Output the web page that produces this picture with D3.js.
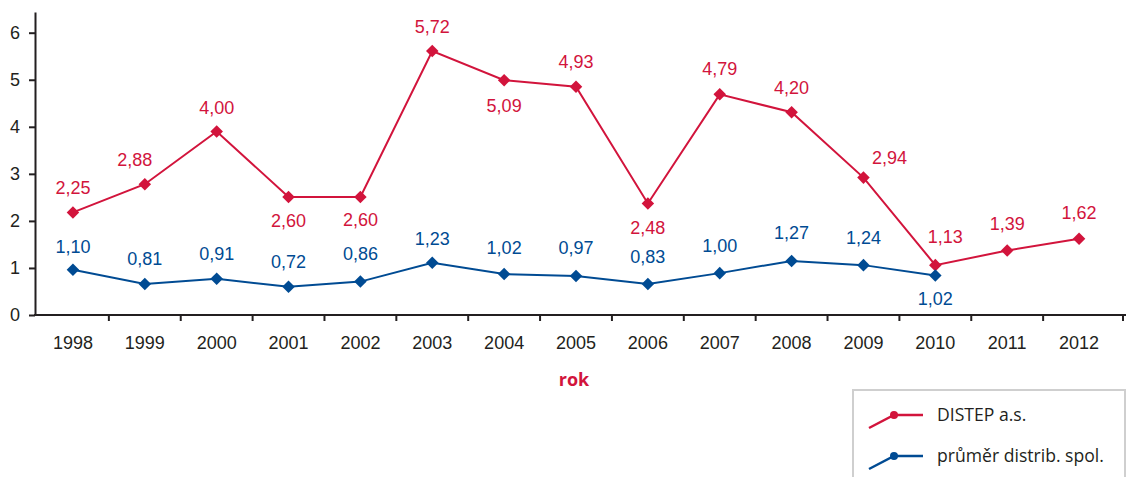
<!DOCTYPE html>
<html>
<head>
<meta charset="utf-8">
<script src="https://cdn.jsdelivr.net/npm/d3@7"></script>
<style>
  html, body { margin: 0; padding: 0; background: #fff; }
  svg { display: block; }
  .tick text { font-family: "Liberation Sans", Arial, sans-serif; font-size: 18px; fill: #231f20; }
  .val { font-family: "Liberation Sans", Arial, sans-serif; font-size: 18px; }
  .leg { font-family: "Open Sans", sans-serif; font-size: 17.6px; fill: #231f20; }
</style>
</head>
<body>
<svg id="chart" width="1133" height="477"></svg>
<script>
// data
var years = ['1998', '1999', '2000', '2001', '2002', '2003', '2004', '2005',
             '2006', '2007', '2008', '2009', '2010', '2011', '2012'];
var distep = [2.18, 2.78, 3.90, 2.51, 2.51, 5.61, 4.99, 4.85, 2.37, 4.69, 4.31, 2.92, 1.06, 1.37, 1.62];
var average = [0.96, 0.66, 0.77, 0.60, 0.71, 1.11, 0.87, 0.83, 0.66, 0.89, 1.15, 1.06, 0.84];
var distepLabels = ['2,25', '2,88', '4,00', '2,60', '2,60', '5,72', '5,09', '4,93',
                    '2,48', '4,79', '4,20', '2,94', '1,13', '1,39', '1,62'];
var averageLabels = ['1,10', '0,81', '0,91', '0,72', '0,86', '1,23', '1,02', '0,97',
                     '0,83', '1,00', '1,27', '1,24', '1,02'];
var yTicks = [0, 1, 2, 3, 4, 5, 6];
var seriesNames = ['DISTEP a.s.', 'průměr distrib. spol.'];
var axisTitle = 'rok';

var RED = '#d2143c',
    BLUE = '#004b93',
    INK = '#231f20';

// where each value label sits relative to its point [dx, dy]
var distepLabelPos = [[0, -25], [-10, -25], [0, -24], [0, 24], [0, 23], [0, -24], [0, 25], [0, -25],
                      [0, 24], [0, -26], [0, -25], [26, -20], [10, -28], [0, -27], [0, -26]];
var averageLabelPos = [[0, -23], [0, -25], [0, -25], [0, -25], [0, -28], [0, -24], [0, -26], [0, -28],
                       [0, -27], [0, -27], [0, -28], [0, -27], [0, 23]];

var svg = d3.select('#chart');

var x = d3.scaleBand().domain(years).range([37, 1115]).padding(0),
    y = d3.scaleLinear().domain([0, 6.44]).range([315, 12]);
var cx = function(yr) { return x(yr) + x.bandwidth() / 2; };

// y axis
var yAxis = svg.append('g')
    .attr('transform', 'translate(35,0)')
    .call(d3.axisLeft(y).tickValues(yTicks).tickSize(6).tickSizeOuter(0).tickPadding(9)
        .tickFormat(d3.format('d')));
yAxis.selectAll('path, line').attr('stroke', INK).attr('stroke-width', 2);

// x axis: labels centred in bands, tick marks on band borders
var xAxis = svg.append('g')
    .attr('transform', 'translate(0,315)')
    .call(d3.axisBottom(x).tickSize(0).tickPadding(21));
xAxis.select('.domain').remove();
svg.append('line')
    .attr('x1', 34).attr('x2', 1126).attr('y1', 315).attr('y2', 315)
    .attr('stroke', INK).attr('stroke-width', 2);
svg.append('g').selectAll('line')
    .data(years.slice(1).concat(['end']))
    .join('line')
    .attr('x1', function(d) { return d === 'end' ? x.range()[1] + 8 : x(d); })
    .attr('x2', function(d) { return d === 'end' ? x.range()[1] + 8 : x(d); })
    .attr('y1', 315).attr('y2', 321)
    .attr('stroke', INK).attr('stroke-width', 2);

svg.append('text')
    .attr('x', 574).attr('y', 386)
    .attr('text-anchor', 'middle')
    .style('font-family', '"Open Sans", sans-serif')
    .style('font-size', '18px').style('font-weight', 'bold')
    .attr('fill', RED)
    .text(axisTitle);

function drawSeries(values, labels, labelPos, color) {
    var pts = values.map(function(v, i) { return {yr: years[i], v: v, label: labels[i], pos: labelPos[i]}; });
    var line = d3.line().x(function(d) { return cx(d.yr); }).y(function(d) { return y(d.v); });
    var g = svg.append('g');
    g.append('path').datum(pts)
        .attr('d', line)
        .attr('fill', 'none')
        .attr('stroke', color)
        .attr('stroke-width', 2);
    g.selectAll('path.pt').data(pts).join('path')
        .attr('class', 'pt')
        .attr('d', d3.symbol(d3.symbolDiamond2, 100))
        .attr('transform', function(d) { return 'translate(' + cx(d.yr) + ',' + y(d.v) + ')'; })
        .attr('fill', color);
    g.selectAll('text').data(pts).join('text')
        .attr('class', 'val')
        .attr('x', function(d) { return cx(d.yr) + d.pos[0]; })
        .attr('y', function(d) { return y(d.v) + d.pos[1]; })
        .attr('dy', '0.35em')
        .attr('text-anchor', 'middle')
        .attr('fill', color)
        .text(function(d) { return d.label; });
}

drawSeries(distep, distepLabels, distepLabelPos, RED);
drawSeries(average, averageLabels, averageLabelPos, BLUE);

// legend
var legend = svg.append('g');
legend.append('rect')
    .attr('x', 853).attr('y', 390).attr('width', 272).attr('height', 120)
    .attr('fill', '#fff').attr('stroke', '#cfcfcf').attr('stroke-width', 2);
[RED, BLUE].forEach(function(color, i) {
    var ly = 415 + i * 41;
    legend.append('polyline')
        .attr('points', [[869, ly + 13], [894, ly], [923, ly]].join(' '))
        .attr('fill', 'none').attr('stroke', color).attr('stroke-width', 2.5);
    legend.append('circle').attr('cx', 894).attr('cy', ly).attr('r', 4).attr('fill', color);
    legend.append('text')
        .attr('class', 'leg')
        .attr('x', 937).attr('y', ly).attr('dy', '0.35em')
        .text(seriesNames[i]);
});
</script>
</body>
</html>
